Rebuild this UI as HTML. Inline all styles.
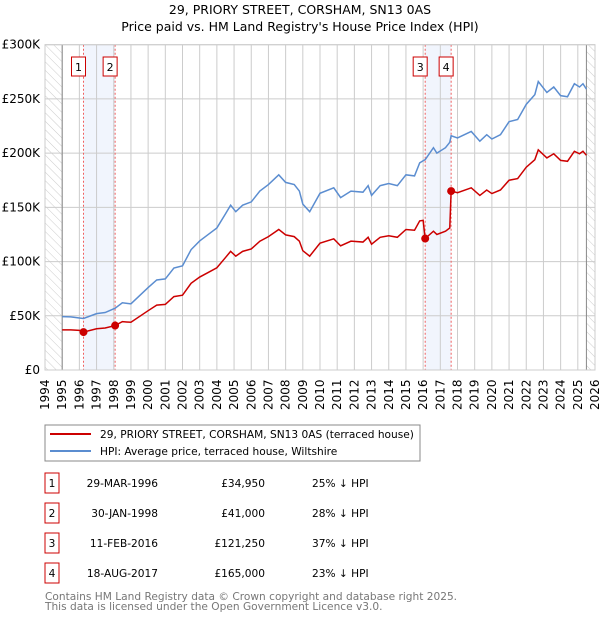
<!DOCTYPE html>
<html><head><meta charset="utf-8"><style>
body{margin:0;width:600px;height:620px;background:#fff;font-family:"Liberation Sans","DejaVu Sans",sans-serif;overflow:hidden}
svg text{font-family:"DejaVu Sans","Liberation Sans",sans-serif}
</style></head><body>
<svg id="c" width="600" height="620">
<defs><pattern id="hatch" width="6" height="6" patternUnits="userSpaceOnUse" patternTransform="rotate(-45)"><line x1="0" y1="0" x2="0" y2="6" stroke="#ccc" stroke-width="1"/></pattern></defs>
<text x="300" y="14" text-anchor="middle" font-size="12.5">29, PRIORY STREET, CORSHAM, SN13 0AS</text>
<text x="300" y="31" text-anchor="middle" font-size="12.5">Price paid vs. HM Land Registry's House Price Index (HPI)</text>
<g id="plot"></g>
<rect x="45" y="425" width="375" height="36" fill="#fff" stroke="#888"/>
<line x1="50" y1="434" x2="91" y2="434" stroke="#cc0000" stroke-width="2"/>
<text x="100" y="438" font-size="10.6">29, PRIORY STREET, CORSHAM, SN13 0AS (terraced house)</text>
<line x1="50" y1="451" x2="91" y2="451" stroke="#5b8dd0" stroke-width="2"/>
<text x="100" y="455" font-size="10.6">HPI: Average price, terraced house, Wiltshire</text>
<g id="table"></g>
<text x="45" y="600" font-size="10.6" fill="#777">Contains HM Land Registry data © Crown copyright and database right 2025.</text>
<text x="45" y="610" font-size="10.6" fill="#777">This data is licensed under the Open Government Licence v3.0.</text>
</svg>
<script>
const years=[1995,1995.5,1996,1996.24,1997,1997.5,1998.08,1998.5,1999,2000,2000.5,2001,2001.5,2002,2002.5,2003,2003.5,2004,2004.5,2004.8,2005.1,2005.5,2006,2006.5,2007,2007.4,2007.6,2008,2008.5,2008.8,2009,2009.4,2010,2010.8,2011.2,2011.8,2012.5,2012.8,2013,2013.5,2014,2014.5,2015,2015.5,2015.8,2016,2016.12,2016.6,2016.8,2017.3,2017.55,2017.63,2018,2018.8,2019.3,2019.7,2020,2020.5,2021,2021.5,2022,2022.5,2022.7,2023.2,2023.6,2024,2024.4,2024.8,2025.1,2025.3,2025.5];
const hpi=[49.2,49,48,47.5,52,53,57,62,61,76,83,84,94,96,111,119,125,131,144,152,146,152,155,165,171,177,180,173,171,165,153,146,163,168,159,165,164,170,161,170,172,170,180,179,191,193,194,205,200,205,210,216,214,220,211,217,213,217,229,231,245,254,266,256,261,253,252,264,261,264,259];
const price=[37,37,36.5,34.95,38,38.7,41,44.6,44,54.7,59.8,60.5,67.7,69,80,85.7,90,94.3,103.7,109.4,105,109.4,111.6,118.8,123,127.4,129.6,124.6,123,118.8,110,105,117,121,114.5,118.8,118,122.4,116,122.4,123.8,122.4,129.6,128.9,137.5,138,121.25,128,125,128,131,165,163.5,168,161,166,162.7,166,175,176.5,187,194,203,195.6,199.4,193.3,192.5,201.7,199.4,201.7,198];
const saleYears=[1996.24,1998.08,2016.12,2017.63];
const salePrices=[34.95,41,121.25,165];
const saleDates=["29-MAR-1996","30-JAN-1998","11-FEB-2016","18-AUG-2017"];
const saleAmounts=["£34,950","£41,000","£121,250","£165,000"];
const saleDiffs=["25% ↓ HPI","28% ↓ HPI","37% ↓ HPI","23% ↓ HPI"];
const yTicks=[0,50,100,150,200,250,300];
const yLabels=["£0","£50K","£100K","£150K","£200K","£250K","£300K"];
const xTicks=[];for(let y=1994;y<=2026;y++)xTicks.push(y);

const X0=45,X1=595,Y0=370,Y1=44.7;
const x=v=>X0+(v-1994)*(X1-X0)/32;
const y=v=>Y0-(v/300)*(Y0-Y1);
const NS="http://www.w3.org/2000/svg";
const g=document.getElementById('plot');
function mk(t,a,p){const e=document.createElementNS(NS,t);for(const k in a)e.setAttribute(k,a[k]);(p||g).appendChild(e);return e;}

let e;
e=mk('rect',{x:X0,y:Y1,width:x(1995)-X0,height:Y0-Y1,fill:'url(#hatch)'});


e=mk('rect',{x:x(2025.5),y:Y1,width:X1-x(2025.5),height:Y0-Y1,fill:'url(#hatch)'});


for(let i=0;i<saleYears.length;i+=2){
 e=mk('rect',{x:x(saleYears[i]),y:Y1,width:x(saleYears[i+1])-x(saleYears[i]),height:Y0-Y1,fill:'#eef3fc',opacity:0.8});
 
 
}
xTicks.forEach(t=>{
 e=mk('line',{x1:x(t),x2:x(t),y1:Y1,y2:Y0,stroke:'#ccc','stroke-width':1});
 
 
 e=mk('text',{x:0,y:0,'font-size':12,transform:`translate(${x(t)+4},${Y0+40}) rotate(-90)`});
 e.textContent=t;
 
 
});
yTicks.forEach((t,i)=>{
 e=mk('line',{x1:X0,x2:X1,y1:y(t),y2:y(t),stroke:'#ccc','stroke-width':1});
 
 
 e=mk('text',{x:X0-5,y:y(t)+4,'font-size':12,'text-anchor':'end'});
 e.textContent=yLabels[i];
 
 
});
e=mk('line',{x1:x(1995),x2:x(1995),y1:Y1,y2:Y0,stroke:'#888'});


e=mk('line',{x1:x(2025.5),x2:x(2025.5),y1:Y1,y2:Y0,stroke:'#888'});


saleYears.forEach((s,i)=>{
 e=mk('line',{x1:x(s),x2:x(s),y1:Y1,y2:Y0,stroke:'#f06060','stroke-dasharray':'2,2'});
 
 
 e=mk('rect',{x:x(s)-12,y:57,width:14,height:19,fill:'#fff',stroke:'#cc0000'});
 
 
 e=mk('text',{x:x(s)-5,y:71,'font-size':11,'text-anchor':'middle'});
 e.textContent=i+1;
 
 
});
e=mk('polyline',{points:years.map((t,i)=>x(t)+','+y(hpi[i])).join(' '),fill:'none',stroke:'#5b8dd0','stroke-width':1.5});


e=mk('polyline',{points:years.map((t,i)=>x(t)+','+y(price[i])).join(' '),fill:'none',stroke:'#cc0000','stroke-width':1.5});


saleYears.forEach((s,i)=>{
 e=mk('circle',{cx:x(s),cy:y(salePrices[i]),r:4,fill:'#cc0000'});
 
 
});
e=mk('rect',{x:X0,y:Y1,width:X1-X0,height:Y0-Y1,fill:'none',stroke:'#ccc'});



const tb=document.getElementById('table');
saleDates.forEach((d,i)=>{
 const cy=483+i*30;
 e=mk('rect',{x:45,y:cy-10,width:14,height:20,fill:'#fff',stroke:'#cc0000'},tb);
 
 
 e=mk('text',{x:52,y:cy+4,'font-size':10.6,'text-anchor':'middle'},tb);e.textContent=i+1;
 
 
 e=mk('text',{x:158,y:cy+4,'font-size':10.6,'text-anchor':'end'},tb);e.textContent=d;
 
 
 e=mk('text',{x:265,y:cy+4,'font-size':10.6,'text-anchor':'end'},tb);e.textContent=saleAmounts[i];
 
 
 e=mk('text',{x:312,y:cy+4,'font-size':10.6},tb);e.textContent=saleDiffs[i];
 
 
});
</script>
</body></html>
